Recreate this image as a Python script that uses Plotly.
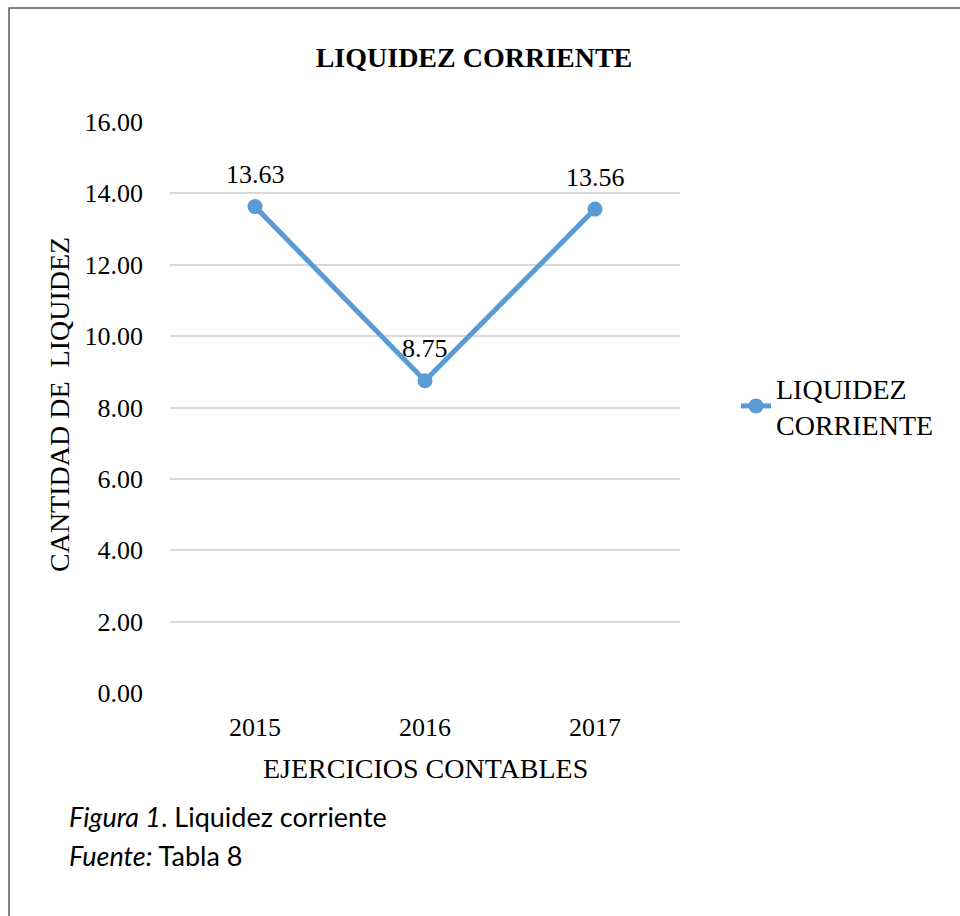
import plotly.graph_objects as go

years = ["2015", "2016", "2017"]
liquidez = [13.63, 8.75, 13.56]
y_ticks = [0, 2, 4, 6, 8, 10, 12, 14, 16]

W, H = 960, 916
L, R, T, B = 170, 280, 122, 223
pw, ph = W - L - R, H - T - B

serif = "Liberation Serif, Times New Roman, serif"
sans = "Lato, Open Sans, sans-serif"
blue = "#5b9bd5"

fig = go.Figure(go.Scatter(
    x=years, y=liquidez,
    mode="lines+markers",
    name="LIQUIDEZ<br>CORRIENTE",
    line=dict(color=blue, width=5),
    marker=dict(color=blue, size=15),
    cliponaxis=False,
))

# data labels above the points (x given as category index)
for i, v in enumerate(liquidez):
    fig.add_annotation(x=i, y=v, xref="x", yref="y", text=f"{v:.2f}", showarrow=False,
                       yshift=32, yanchor="middle",
                       font=dict(family=serif, size=26, color="#000"))

fig.update_layout(
    width=W, height=H,
    margin=dict(l=L, r=R, t=T, b=B),
    paper_bgcolor="white", plot_bgcolor="white",
    font=dict(family=serif, size=26, color="#000"),
    title=dict(text="<b>LIQUIDEZ CORRIENTE</b>", x=474 / W, xanchor="center",
               y=1 - 57 / H, yanchor="middle", font=dict(family=serif, size=28)),
    showlegend=True,
    legend=dict(x=(736 - L) / pw, xanchor="left", y=(693 - 406) / ph, yanchor="middle",
                font=dict(family=serif, size=28), tracegroupgap=0),
    xaxis=dict(type="category", range=[-0.5, 2.5], showgrid=False, showline=False,
               ticks="", ticklabelstandoff=16, tickfont=dict(size=26), fixedrange=True),
    yaxis=dict(range=[0, 16], tickvals=y_ticks, tickformat=".2f", showgrid=True,
               gridcolor="#d9d9d9", gridwidth=1.5, zeroline=False, showline=False,
               ticks="", ticklabelstandoff=26, tickfont=dict(size=26)),
)

fig.add_annotation(text="EJERCICIOS CONTABLES", xref="paper", yref="paper",
                   x=(425 - L) / pw, y=(693 - 768) / ph, showarrow=False,
                   xanchor="center", yanchor="middle", font=dict(family=serif, size=28))
fig.add_annotation(text="CANTIDAD DE\u00a0\u00a0LIQUIDEZ", xref="paper", yref="paper",
                   x=(59 - L) / pw, y=(693 - 405) / ph, showarrow=False, textangle=-90,
                   xanchor="center", yanchor="middle", font=dict(family=serif, size=28))

fig.add_annotation(text="<i>Figura 1</i>. Liquidez corriente", xref="paper", yref="paper",
                   x=(67 - L) / pw, y=(693 - 816) / ph, showarrow=False,
                   xanchor="left", yanchor="middle", font=dict(family=sans, size=27))
fig.add_annotation(text="<i>Fuente:</i> Tabla 8", xref="paper", yref="paper",
                   x=(67 - L) / pw, y=(693 - 855) / ph, showarrow=False,
                   xanchor="left", yanchor="middle", font=dict(family=sans, size=27))

# outer frame (left and top edges visible)
fig.add_shape(type="rect", xref="paper", yref="paper",
              x0=(9 - L) / pw, x1=(970 - L) / pw, y0=(693 - 930) / ph, y1=(693 - 8) / ph,
              line=dict(color="#595959", width=1.5), layer="below")

fig.write_html("out.html", config={"displayModeBar": False},
               post_script="document.body.style.margin='0';")
